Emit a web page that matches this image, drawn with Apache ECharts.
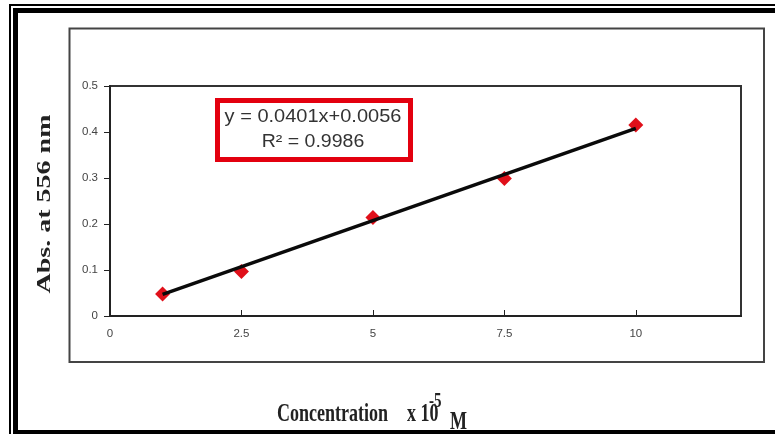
<!DOCTYPE html>
<html>
<head>
<meta charset="utf-8">
<script src="https://cdn.jsdelivr.net/npm/echarts@6/dist/echarts.min.js"></script>
<style>
  html, body { margin: 0; padding: 0; background: #fff; }
  #chart { width: 775px; height: 434px; }
</style>
</head>
<body>
<div id="chart"></div>
<script>
// measured points (concentration x 1e-5 M, absorbance)
var concX = [1, 2.5, 5, 7.5, 10];
var absY = [0.048, 0.097, 0.214, 0.299, 0.415];
// trend line ends
var trendX = [1, 10];
var trendY = [0.047, 0.408];
// tick labels
var xTicks = [0, 2.5, 5, 7.5, 10];
var yTicks = [0, 0.1, 0.2, 0.3, 0.4, 0.5];
var eqLines = ["y = 0.0401x+0.0056", "R\u00b2 = 0.9986"];

var myChart = echarts.init(document.getElementById("chart"));

var pts = concX.map(function(x, i) { return [x, absY[i]]; });
var trend = trendX.map(function(x, i) { return [x, trendY[i]]; });

myChart.setOption({
  animation: false,
  backgroundColor: "#fff",
  grid: {
    left: 110,
    top: 86,
    right: 34,
    bottom: 118,
    show: true,
    borderColor: "#333",
    borderWidth: 2,
    backgroundColor: "#fff"
  },
  xAxis: {
    type: "value",
    min: 0,
    max: 12,
    interval: 2.5,
    splitLine: { show: false },
    axisLine: { lineStyle: { color: "#222", width: 2 } },
    axisTick: { inside: true, length: 6, customValues: xTicks, lineStyle: { color: "#222" } },
    axisLabel: {
      customValues: xTicks,
      margin: 12,
      color: "#444",
      fontSize: 11.5,
      fontFamily: "Liberation Sans"
    }
  },
  yAxis: {
    type: "value",
    min: 0,
    max: 0.5,
    interval: 0.1,
    splitLine: { show: false },
    axisLine: { lineStyle: { color: "#222", width: 2 } },
    axisTick: { length: 6, customValues: yTicks, lineStyle: { color: "#222" } },
    axisLabel: {
      customValues: yTicks,
      margin: 12,
      color: "#444",
      fontSize: 11.5,
      fontFamily: "Liberation Sans"
    }
  },
  series: [
    {
      type: "scatter",
      data: pts,
      symbol: "diamond",
      symbolSize: 15,
      itemStyle: { color: "#e0101a", opacity: 1 },
      z: 2
    },
    {
      type: "line",
      data: trend,
      symbol: "none",
      lineStyle: { color: "#0a0a0a", width: 3.5 },
      z: 3
    }
  ],
  graphic: [
    // outer double border
    { type: "rect", shape: { x: 9, y: 4, width: 2, height: 430 }, style: { fill: "#000" } },
    { type: "rect", shape: { x: 9, y: 4, width: 766, height: 2 }, style: { fill: "#000" } },
    { type: "rect", shape: { x: 13, y: 8, width: 5, height: 426 }, style: { fill: "#000" } },
    { type: "rect", shape: { x: 13, y: 8, width: 762, height: 5 }, style: { fill: "#000" } },
    { type: "rect", shape: { x: 13, y: 430, width: 762, height: 4 }, style: { fill: "#000" } },
    // chart frame
    {
      type: "rect",
      shape: { x: 69.5, y: 28.5, width: 694.5, height: 333.5 },
      style: { fill: "none", stroke: "#444", lineWidth: 2 },
      z: -1
    },
    // equation box
    {
      type: "rect",
      shape: { x: 217.5, y: 100.5, width: 193, height: 59 },
      style: { fill: "#fff", stroke: "#e3000f", lineWidth: 5 },
      z: 10
    },
    {
      type: "text", x: 313, y: 117.5, scaleX: 1.25, scaleY: 1.1, z: 11,
      style: { text: eqLines[0], font: '16px "Liberation Sans"', fill: "#333",
        align: "center", verticalAlign: "middle", textAlign: "center", textVerticalAlign: "middle" }
    },
    {
      type: "text", x: 313, y: 142.5, scaleX: 1.22, scaleY: 1.1, z: 11,
      style: { text: eqLines[1], font: '16px "Liberation Sans"', fill: "#333",
        align: "center", verticalAlign: "middle", textAlign: "center", textVerticalAlign: "middle" }
    },
    // y axis title
    {
      type: "text", x: 45.5, y: 204, rotation: Math.PI / 2, scaleX: 1.4, scaleY: 0.95, z: 11,
      style: { text: "Abs. at 556 nm", font: 'bold 20px "Liberation Serif"', fill: "#222",
        align: "center", verticalAlign: "middle", textAlign: "center", textVerticalAlign: "middle" }
    },
    // x axis title
    {
      type: "text", x: 277, y: 414.5, scaleY: 1.4, z: 11,
      style: { text: "Concentration", font: 'bold 18px "Liberation Serif"', fill: "#222",
        align: "left", verticalAlign: "middle", textAlign: "left", textVerticalAlign: "middle" }
    },
    {
      type: "text", x: 407, y: 414.5, scaleY: 1.4, z: 11,
      style: { text: "x 10", font: 'bold 18px "Liberation Serif"', fill: "#222",
        align: "left", verticalAlign: "middle", textAlign: "left", textVerticalAlign: "middle" }
    },
    {
      type: "text", x: 429, y: 402, scaleY: 1.4, z: 11,
      style: { text: "-5", font: 'bold 15px "Liberation Serif"', fill: "#222",
        align: "left", verticalAlign: "middle", textAlign: "left", textVerticalAlign: "middle" }
    },
    {
      type: "text", x: 450, y: 422.5, scaleY: 1.4, z: 11,
      style: { text: "M", font: 'bold 18px "Liberation Serif"', fill: "#222",
        align: "left", verticalAlign: "middle", textAlign: "left", textVerticalAlign: "middle" }
    }
  ]
});
</script>
</body>
</html>
